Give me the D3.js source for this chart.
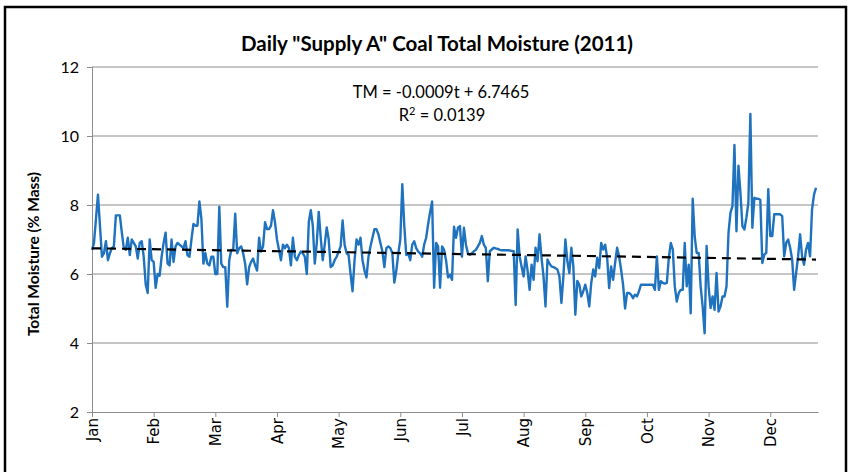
<!DOCTYPE html>
<html>
<head>
<meta charset="utf-8">
<script src="https://cdn.jsdelivr.net/npm/d3@7/dist/d3.min.js"></script>
<style>
  body { margin: 0; background: #fff; }
  svg { display: block; }
</style>
</head>
<body>
<svg id="chart" width="851" height="472"></svg>
<script>
// Month labels placed every 31 daily readings along the index axis
const monthLabels = ["Jan", "Feb", "Mar", "Apr", "May", "Jun", "Jul", "Aug", "Sep", "Oct", "Nov", "Dec"];
const monthTickDays = [0, 31, 62, 93, 124, 155, 186, 217, 248, 279, 310, 341];
const yTicks = [2, 4, 6, 8, 10, 12];

// Daily total moisture (% mass), 2011
const janFeb = [
  6.7, 6.9, 7.6, 8.3, 7.4, 6.5, 6.6, 6.95, 6.4, 6.6,
  6.75, 6.8, 7.7, 7.7, 7.7, 7.2, 6.75, 6.7, 7.05, 6.55,
  7.0, 6.9, 6.8, 6.45, 6.9, 6.95, 6.5, 5.7, 5.45, 7.0,
  6.4, 6.35, 5.6, 6.0, 5.95, 6.5, 6.9, 7.2, 6.3, 6.25,
  7.0, 6.35, 6.8, 6.9, 6.85, 6.8, 6.75, 6.95, 6.55, 6.5,
  7.0, 7.45, 7.4, 7.4, 8.1, 7.6, 6.3, 6.6, 6.3
];
const marApr = [
  6.25, 6.5, 6.5, 6.0, 6.0, 7.95, 6.3, 6.2, 6.2, 5.05, 6.4,
  6.7, 6.7, 7.75, 6.6, 6.75, 6.8, 6.6, 6.3, 5.7, 6.2,
  6.35, 6.45, 6.25, 6.1, 7.05, 6.65, 6.8, 7.5, 7.3, 7.3,
  7.4, 7.85, 7.5, 7.0, 6.7, 6.4, 6.85, 6.75, 6.85, 6.75,
  6.25, 7.05, 6.5, 6.4, 6.55, 6.65, 6.6, 6.5, 6.0, 7.5,
  7.85, 7.4, 6.3, 6.9, 7.8, 7.05, 6.4, 6.85, 7.35, 7.0, 6.2
];
const mayJun = [
  6.25, 6.4, 6.5, 6.65, 6.8, 7.55, 6.85, 6.6, 6.55, 6.0,
  5.5, 6.4, 7.0, 6.85, 7.05, 6.4, 6.1, 5.9, 6.5, 6.8,
  7.05, 7.3, 7.3, 7.15, 6.9, 6.65, 6.2, 6.75, 6.8, 6.75,
  6.6, 5.75, 6.1, 6.6, 7.0, 8.6, 7.4, 6.55, 6.6, 6.4,
  6.85, 6.95, 6.75, 6.65, 6.6, 6.5, 6.85, 7.05, 7.45, 7.8,
  8.1, 5.6, 6.9, 6.8, 5.6, 6.8, 6.7, 6.4, 5.9, 5.98, 5.83
];
const julAug = [
  7.37, 7.05, 7.34, 7.39, 6.5, 7.34, 6.85, 6.6, 6.56, 6.6,
  6.66, 6.7, 6.8, 6.9, 7.1, 6.85, 6.76, 5.79, 6.66, 6.71,
  6.76, 6.74, 6.73, 6.7, 6.69, 6.69, 6.69, 6.69, 6.68, 6.67,
  6.66, 5.1, 7.29, 6.51, 6.2, 5.93, 6.51, 6.1, 5.54, 6.27,
  5.83, 6.76, 6.37, 7.15, 6.47, 5.93, 5.06, 6.42, 6.3, 6.22,
  6.2, 6.17, 6.13, 5.93, 5.16, 5.93, 7.0, 6.37, 6.03, 6.76, 6.22, 4.82
];
const sepOct = [
  5.8, 5.69, 5.35, 5.5, 5.69, 5.45, 5.06, 5.74,
  6.13, 5.93, 6.47, 6.17, 6.9, 6.71, 6.85, 6.47, 5.59, 6.22,
  5.83, 6.32, 6.76, 6.51, 6.13, 5.69, 5.0, 5.45, 5.45, 5.4,
  5.3, 5.4, 5.35, 5.5, 5.69, 5.69, 5.69, 5.69, 5.69, 5.69,
  5.69, 5.54, 6.51, 5.54, 5.79, 5.74, 5.72, 5.74, 6.47, 6.9,
  6.71, 5.64, 5.2, 5.45, 5.54, 5.54
];
const novDec = [
  6.9, 5.64, 6.27, 4.86, 8.18, 7.1, 6.61, 6.61, 5.64, 5.06,
  4.28, 6.81, 5.64, 5.01, 5.35, 4.96, 6.03, 4.91, 5.06, 5.35,
  5.35, 5.64, 7.19, 7.78, 7.97, 9.74, 7.24, 9.14, 8.36, 7.39,
  7.29, 7.63, 8.07, 10.64, 7.34, 8.21, 8.18, 8.18, 8.15, 6.32,
  6.56, 6.61, 8.46, 7.1, 7.1, 7.73, 7.73, 7.73, 7.73, 7.68,
  6.51, 6.9, 7.0, 6.76, 6.42, 5.54, 6.03, 6.51, 7.15, 6.51,
  6.27, 6.71, 6.9, 6.51, 7.87, 8.3, 8.5
];
const moisture = [...janFeb, ...marApr, ...mayJun, ...julAug, ...sepOct, ...novDec];

// Linear trend as reported on the chart (t = day number, starting at 1)
const trendSlope = -0.0009;
const trendIntercept = 6.7465;
const rSquared = "0.0139";

const svg = d3.select("#chart");
const W = 851, H = 472;
const uiFont = "Lato, 'Open Sans', sans-serif";

// Outer frame (bottom edge runs just past the canvas)
svg.append("rect")
  .attr("x", 5).attr("y", 7)
  .attr("width", W - 10).attr("height", H)
  .attr("fill", "#fff")
  .attr("stroke", "#000").attr("stroke-width", 2.5);

const x = d3.scaleLinear().domain([0, 365]).range([92, 818]);
const y = d3.scaleLinear().domain([2, 12]).range([412, 67]);

const gridColor = "#8c8c8c";

// Horizontal gridlines
svg.append("g")
  .selectAll("line")
  .data(yTicks.filter(v => v > 2))
  .join("line")
  .attr("x1", x(0)).attr("x2", x(365))
  .attr("y1", d => y(d)).attr("y2", d => y(d))
  .attr("stroke", gridColor).attr("stroke-width", 1);

// Y axis
const yAxis = d3.axisLeft(y).tickValues(yTicks).tickSize(5).tickPadding(8);
const gy = svg.append("g").attr("transform", `translate(${x(0)},0)`).call(yAxis);
gy.select(".domain").attr("stroke", gridColor);
gy.selectAll(".tick line").attr("stroke", gridColor);
gy.selectAll(".tick text")
  .attr("fill", "#000")
  .style("font-family", uiFont)
  .style("font-size", "16px");

// X axis
const xAxis = d3.axisBottom(x)
  .tickValues(monthTickDays)
  .tickFormat((d, i) => monthLabels[i])
  .tickSize(5)
  .tickSizeOuter(0);
const gx = svg.append("g").attr("transform", `translate(0,${y(2)})`).call(xAxis);
gx.select(".domain").attr("stroke", gridColor);
gx.selectAll(".tick line").attr("stroke", gridColor);
gx.selectAll(".tick text")
  .attr("fill", "#000")
  .attr("text-anchor", "end")
  .attr("transform", "rotate(-90)")
  .attr("x", -6)
  .attr("y", 0)
  .attr("dy", "0.35em")
  .style("font-family", "'DejaVu Sans', Verdana, sans-serif")
  .style("font-size", "15px");

// Daily moisture line
const line = d3.line()
  .x((d, i) => x(i))
  .y(d => y(d));
svg.append("path")
  .datum(moisture)
  .attr("d", line)
  .attr("fill", "none")
  .attr("stroke", "#1f72bd")
  .attr("stroke-width", 2.4)
  .attr("stroke-linejoin", "round");

// Trend line
const trendEnds = [0, moisture.length - 1];
svg.append("line")
  .attr("x1", x(trendEnds[0])).attr("y1", y(trendSlope * (trendEnds[0] + 1) + trendIntercept))
  .attr("x2", x(trendEnds[1])).attr("y2", y(trendSlope * (trendEnds[1] + 1) + trendIntercept))
  .attr("stroke", "#000")
  .attr("stroke-width", 2.2)
  .attr("stroke-dasharray", "9,6");

// Title
svg.append("text")
  .attr("x", 437).attr("y", 51)
  .attr("text-anchor", "middle")
  .style("font-family", uiFont)
  .style("font-size", "20.5px")
  .style("font-weight", "bold")
  .text("Daily \"Supply A\" Coal Total Moisture (2011)");

// Y axis title
svg.append("text")
  .attr("transform", "translate(39,254) rotate(-90)")
  .attr("text-anchor", "middle")
  .style("font-family", uiFont)
  .style("font-size", "15.5px")
  .style("font-weight", "bold")
  .text("Total Moisture (% Mass)");

// Trend equation
const eq = svg.append("g")
  .style("font-family", uiFont)
  .style("font-size", "16.5px")
  .attr("text-anchor", "middle");
eq.append("text").attr("x", 441).attr("y", 98)
  .text(`TM = ${trendSlope}t + ${trendIntercept}`);
const r2 = eq.append("text").attr("x", 442).attr("y", 121);
r2.append("tspan").text("R");
r2.append("tspan").attr("dy", -6).style("font-size", "11px").text("2");
r2.append("tspan").attr("dy", 6).text(` = ${rSquared}`);
</script>
</body>
</html>
